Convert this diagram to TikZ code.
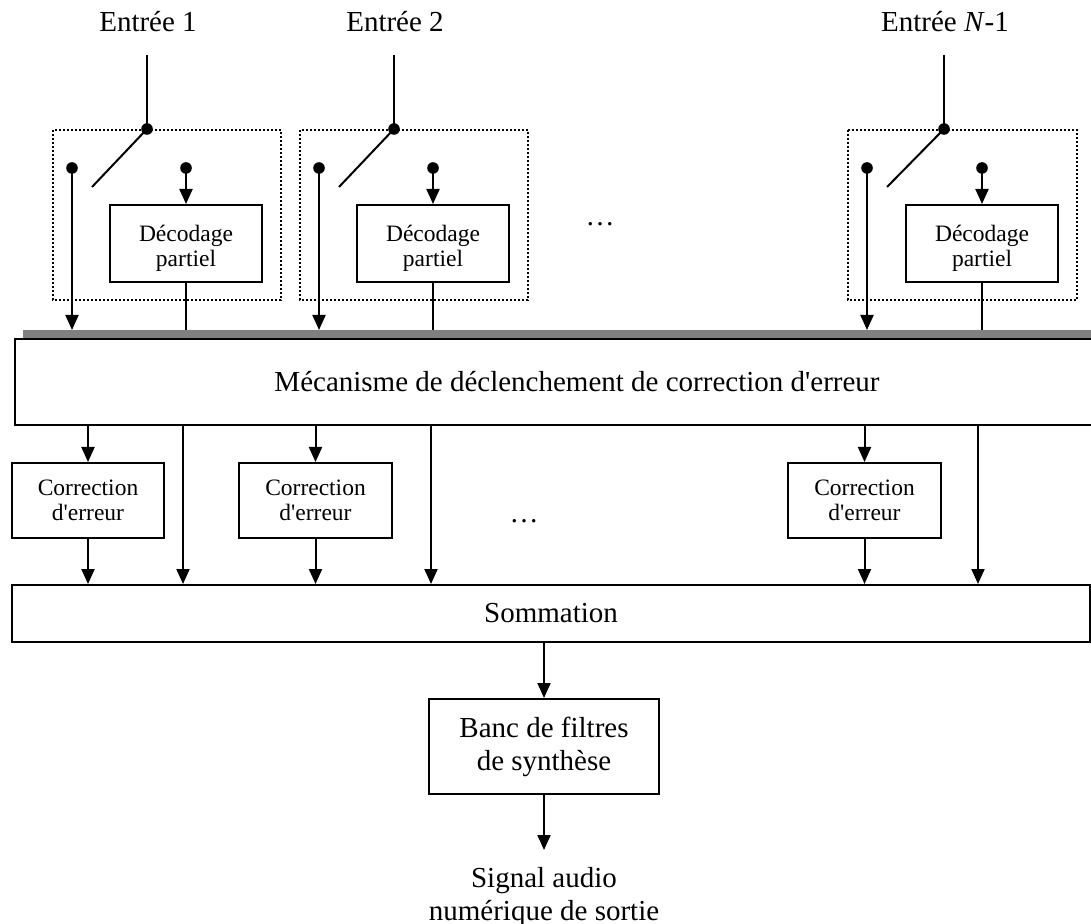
\documentclass[tikz,border=0pt]{standalone}
\usepackage{fontspec}
\setmainfont{Liberation Serif}[Ligatures=TeXOff]
\usetikzlibrary{arrows.meta}
\definecolor{busgray}{RGB}{128,128,128}
\newcommand{\topst}{\rule{0pt}{13pt}}
\newcommand{\topsc}{\rule{0pt}{10pt}}
\newcommand{\botst}{\rule[-2.6pt]{0pt}{2.6pt}}
\begin{document}
\begin{tikzpicture}[x=0.5pt,y=-0.5pt,
  line width=1pt,
  >={Triangle[length=7.5pt,width=6.5pt]},
  big/.style={font=\fontsize{14.5}{16.5}\selectfont},
  small/.style={font=\fontsize{11.75}{12.5}\selectfont},
  box/.style={draw,line width=1pt,align=center,inner sep=0pt},
  grp/.style={draw,line width=0.9pt,dash pattern=on 1pt off 1pt},
  dot/.style={circle,fill,inner sep=0pt,minimum size=5.8pt},
  lbl/.style={big,inner sep=0pt,align=center}]
\useasboundingbox (0,0) rectangle (1091,924);

% bus and main box
\fill[busgray] (23,330) rectangle (1100,338);
\coordinate (bus) at (0,330);
\node[box,big,minimum width=562pt,minimum height=43pt] (meca) at (577,382)
  {Mécanisme de déclenchement de correction d'erreur};

% ---- column 1
\node[lbl] (e1) at (148,22) {Entrée 1};
\coordinate (in1) at (147,55);
\draw[grp] (53,130) rectangle (281,300);
\node[dot] (p1) at (147,129) {};
\node[dot] (l1) at (72,168) {};
\node[dot] (r1) at (186,168) {};
\coordinate (b1) at (92,187);
\node[box,small,minimum width=76pt,minimum height=38.5pt] (d1) at (186,243.5) {\topst Décodage\\partiel\botst};
\draw (in1) -- (p1.center);
\draw (p1.center) -- (b1);
\draw[->] (l1.center) -- (l1 |- bus);
\draw[->] (r1.center) -- (d1.north);
\draw (d1.south) -- (d1.south |- bus);

% ---- column 2
\node[lbl] (e2) at (395,22) {Entrée 2};
\coordinate (in2) at (394,55);
\draw[grp] (300,130) rectangle (528,300);
\node[dot] (p2) at (394,129) {};
\node[dot] (l2) at (319,168) {};
\node[dot] (r2) at (433,168) {};
\coordinate (b2) at (339,187);
\node[box,small,minimum width=76pt,minimum height=38.5pt] (d2) at (433,243.5) {\topst Décodage\\partiel\botst};
\draw (in2) -- (p2.center);
\draw (p2.center) -- (b2);
\draw[->] (l2.center) -- (l2 |- bus);
\draw[->] (r2.center) -- (d2.north);
\draw (d2.south) -- (d2.south |- bus);

% ---- column 3
\node[lbl] (e3) at (945,22) {Entrée \textit{N}-1};
\coordinate (in3) at (944,55);
\draw[grp] (848,130) rectangle (1077,300);
\node[dot] (p3) at (944,129) {};
\node[dot] (l3) at (867,168) {};
\node[dot] (r3) at (982,168) {};
\coordinate (b3) at (887,187);
\node[box,small,minimum width=76pt,minimum height=38.5pt] (d3) at (982,243.5) {\topst Décodage\\partiel\botst};
\draw (in3) -- (p3.center);
\draw (p3.center) -- (b3);
\draw[->] (l3.center) -- (l3 |- bus);
\draw[->] (r3.center) -- (d3.north);
\draw (d3.south) -- (d3.south |- bus);

\node[big] (dots1) at (600,224) {…};

% ---- sommation
\node[box,big,minimum width=539pt,minimum height=28.5pt] (somm) at (551,613.5) {Sommation};

% correction boxes
\node[box,small,minimum width=76pt,minimum height=37.5pt] (c1) at (88,500.5) {\topsc Correction\\d'erreur\botst};
\node[box,small,minimum width=76.5pt,minimum height=37.5pt] (c2) at (315.5,500.5) {\topsc Correction\\d'erreur\botst};
\node[box,small,minimum width=76.5pt,minimum height=37.5pt] (c3) at (864.5,500.5) {\topsc Correction\\d'erreur\botst};
\coordinate (k1) at (183,500);
\coordinate (k2) at (431,500);
\coordinate (k3) at (978,500);
\foreach \i in {1,2,3}{
  \draw[->] (meca.south -| c\i) -- (c\i.north);
  \draw[->] (c\i.south) -- (c\i.south |- somm.north);
  \draw[->] (meca.south -| k\i) -- (k\i |- somm.north);
}
\node[big] (dots2) at (524,521) {…};

% ---- synthesis
\node[box,big,minimum width=115pt,minimum height=47.5pt] (banc) at (544,746.5) {Banc de filtres\\de synthèse};
\draw[->] (somm.south -| banc) -- (banc.north);
\node[lbl] (out) at (544,897) {Signal audio\\numérique de sortie};
\coordinate (o1) at (544,850);
\draw[->] (banc.south) -- (o1);
\end{tikzpicture}
\end{document}
